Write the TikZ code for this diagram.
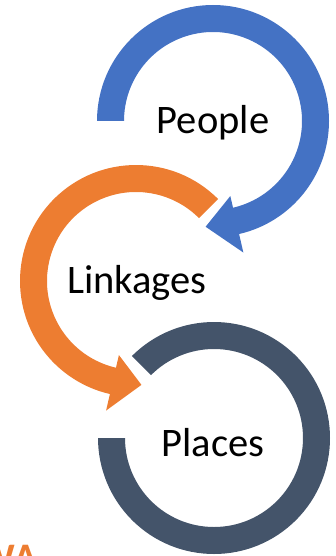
\documentclass[tikz,border=0pt]{standalone}
\usepackage{fontspec}
\setmainfont{Carlito}
\definecolor{peopleblue}{HTML}{4472C4}
\definecolor{linkorange}{HTML}{ED7D31}
\definecolor{placegray}{HTML}{44546A}
\begin{document}
\begin{tikzpicture}[x=1pt,y=1pt,label/.style={font=\fontsize{40.5}{48}\selectfont}]
\useasboundingbox (0,0) rectangle (335,-556);
% people
\begin{scope}[shift={(213,-121)}]
\fill[peopleblue](180:116) arc (180:-77:116)--(-77:135)--(-94:106)--(-77:77)--(-77:89) arc (-77:180:89)--cycle;
\node[label](people) at (0,-2){People};
\end{scope}
% linkages
\begin{scope}[shift={(136,-281)}]
\fill[linkorange](45:116) arc (45:257:116)--(257:133)--(273:104)--(257:76)--(257:89) arc (257:45:89)--cycle;
\node[label](linkages) at (1,-2){Linkages};
\end{scope}
% places
\begin{scope}[shift={(214,-438)}]
\fill[placegray](135:116) arc (135:-180:116)--(-180:89) arc (-180:135:89)--cycle;
\node[label](places) at (-1,-5){Places};
\end{scope}
\node[anchor=north west,inner sep=0,text=linkorange,font=\fontsize{40.5}{48}\selectfont\bfseries](cut) at (-22,-545){WA};
\end{tikzpicture}
\end{document}
